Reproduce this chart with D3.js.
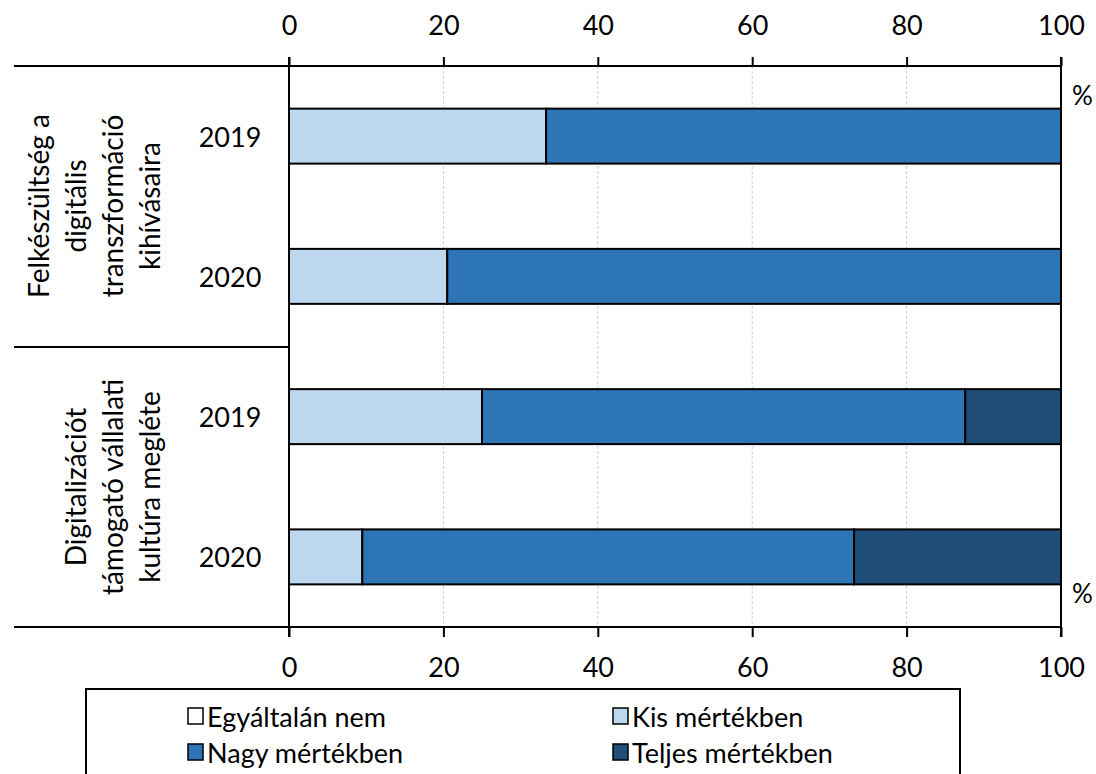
<!DOCTYPE html>
<html>
<head>
<meta charset="utf-8">
<script src="https://cdn.jsdelivr.net/npm/d3@7"></script>
<style>
  body { margin: 0; background: #fff; }
  text { font-family: Lato, "Open Sans", sans-serif; fill: #000; }
</style>
</head>
<body>
<div id="chart"></div>
<script>
// data
var rows = ["g1-2019", "g1-2020", "g2-2019", "g2-2020"];
var years = ["2019", "2020", "2019", "2020"];
var series = ["Egyáltalán nem", "Kis mértékben", "Nagy mértékben", "Teljes mértékben"];
var egyaltalan = [0, 0, 0, 0];
var kis = [33.3, 20.5, 25.0, 9.5];
var nagy = [66.7, 79.5, 62.6, 63.7];
var teljes = [0, 0, 12.4, 26.8];
var groups = [
  ["Felkészültség a", "digitális", "transzformáció", "kihívásaira"],
  ["Digitalizációt", "támogató vállalati", "kultúra megléte"]
];
var ticks = [0, 20, 40, 60, 80, 100];
var colors = ["#ffffff", "#bdd7ee", "#2e75b6", "#1f4e79"];

var W = 1096, H = 774;
var svg = d3.select("#chart").append("svg")
  .attr("width", W)
  .attr("height", H);

var x = d3.scaleLinear().domain([0, 100]).range([289, 1061]);
var y = d3.scaleBand().domain(rows).range([66, 627])
  .paddingInner(0.608).paddingOuter(0.304);

// gridlines
svg.append("g").selectAll("line")
  .data(ticks.slice(1, -1))
  .enter().append("line")
  .attr("x1", function(d) { return x(d); })
  .attr("x2", function(d) { return x(d); })
  .attr("y1", 66).attr("y2", 627)
  .attr("stroke", "#d0d0d0")
  .attr("stroke-width", 1)
  .attr("stroke-dasharray", "3,2");

// stacked bars
var table = rows.map(function(r, i) {
  return { row: r, "Egyáltalán nem": egyaltalan[i], "Kis mértékben": kis[i],
           "Nagy mértékben": nagy[i], "Teljes mértékben": teljes[i] };
});
var stack = d3.stack().keys(series)(table);

svg.append("g").selectAll("g")
  .data(stack)
  .enter().append("g")
  .attr("fill", function(d, i) { return colors[i]; })
  .selectAll("rect")
  .data(function(d) { return d.filter(function(p) { return p[1] - p[0] > 0; }); })
  .enter().append("rect")
  .attr("x", function(d) { return x(d[0]); })
  .attr("width", function(d) { return x(d[1]) - x(d[0]); })
  .attr("y", function(d) { return y(d.data.row); })
  .attr("height", y.bandwidth())
  .attr("stroke", "#000")
  .attr("stroke-width", 2);

// top and bottom axes
var topAxis = d3.axisTop(x).tickValues(ticks).tickSize(9).tickPadding(22);
var botAxis = d3.axisBottom(x).tickValues(ticks).tickSize(10).tickPadding(21);

var gt = svg.append("g").attr("transform", "translate(0,66)").call(topAxis);
var gb = svg.append("g").attr("transform", "translate(0,627)").call(botAxis);
[gt, gb].forEach(function(g) {
  g.select(".domain").remove();
  g.selectAll("line").attr("stroke", "#000").attr("stroke-width", 2);
  g.selectAll("text").attr("font-size", 27).attr("font-family", "Lato, sans-serif");
});

// frame lines
var frame = svg.append("g").attr("stroke", "#000").attr("stroke-width", 2);
frame.append("line").attr("x1", 14).attr("x2", x(100)).attr("y1", 66).attr("y2", 66);
frame.append("line").attr("x1", 14).attr("x2", x(100)).attr("y1", 627).attr("y2", 627);
frame.append("line").attr("x1", 14).attr("x2", x(0)).attr("y1", 347).attr("y2", 347);
frame.append("line").attr("x1", x(0)).attr("x2", x(0)).attr("y1", 57).attr("y2", 637);
frame.append("line").attr("x1", x(100)).attr("x2", x(100)).attr("y1", 57).attr("y2", 637);

// year labels
svg.append("g").selectAll("text")
  .data(rows)
  .enter().append("text")
  .attr("x", 230)
  .attr("y", function(d) { return y(d) + y.bandwidth() / 2; })
  .attr("text-anchor", "middle")
  .attr("dominant-baseline", "central")
  .attr("font-size", 27)
  .text(function(d, i) { return years[i]; });

// group labels (rotated)
var groupCenters = [206, 487];
groups.forEach(function(lines, gi) {
  var n = lines.length;
  lines.forEach(function(t, li) {
    var cx = 149 - (n - 1 - li) * 37;
    svg.append("text")
      .attr("transform", "translate(" + cx + "," + groupCenters[gi] + ") rotate(-90)")
      .attr("text-anchor", "middle")
      .attr("dominant-baseline", "central")
      .attr("font-size", 28)
      .text(t);
  });
});

// percent signs
[95, 593].forEach(function(py) {
  svg.append("text").attr("x", 1072).attr("y", py)
    .attr("dominant-baseline", "central")
    .attr("font-size", 26).text("%");
});

// legend
svg.append("rect").attr("x", 86).attr("y", 689).attr("width", 874).attr("height", 100)
  .attr("fill", "#fff").attr("stroke", "#000").attr("stroke-width", 2);
var legPos = [[188, 716], [613, 716], [188, 752], [613, 752]];
series.forEach(function(s, i) {
  var g = svg.append("g").attr("transform", "translate(" + legPos[i][0] + "," + legPos[i][1] + ")");
  g.append("rect").attr("x", 0).attr("y", -8).attr("width", 15).attr("height", 16)
    .attr("fill", colors[i]).attr("stroke", "#000").attr("stroke-width", 1.5);
  g.append("text").attr("x", 19).attr("y", 0)
    .attr("dominant-baseline", "central")
    .attr("font-size", 27).text(s);
});
</script>
</body>
</html>
